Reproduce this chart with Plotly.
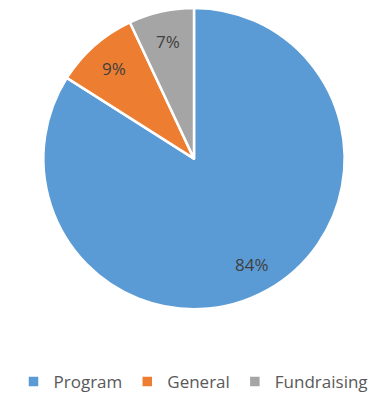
import math
import plotly.graph_objects as go

categories = ["Program", "General", "Fundraising"]
values = [84, 9, 7]
colors = ["#5B9BD5", "#ED7D31", "#A5A5A5"]

W, H = 387, 400
cx_px, cy_px, r_px = 194, 159, 151

fig = go.Figure(go.Pie(
    labels=categories, values=values, sort=False, direction="clockwise",
    rotation=0, textinfo="none", hoverinfo="label+percent",
    marker=dict(colors=colors, line=dict(color="white", width=2.5)),
    domain=dict(x=[(cx_px - r_px) / W, (cx_px + r_px) / W],
                y=[(H - cy_px - r_px) / H, (H - cy_px + r_px) / H]),
))

total = sum(values)
start = 0.0
anns = []
for v in values:
    mid = (start + v / 2) / total * 2 * math.pi
    start += v
    x = (cx_px + 0.8 * r_px * math.sin(mid)) / W
    y = (H - cy_px + 0.8 * r_px * math.cos(mid)) / H
    anns.append(dict(x=x, y=y, xref="paper", yref="paper", showarrow=False,
                     xanchor="center", yanchor="middle",
                     text=f"{round(v / total * 100)}%",
                     font=dict(family="Open Sans, sans-serif", size=17, color="#404040")))

fig.update_layout(
    width=W, height=H, margin=dict(l=0, r=0, t=0, b=0),
    paper_bgcolor="white", plot_bgcolor="white",
    annotations=anns,
    legend=dict(orientation="h", x=0.5, xanchor="center", y=0.042, yanchor="middle",
                font=dict(family="Open Sans, sans-serif", size=17, color="#595959"),
                itemwidth=30, tracegroupgap=0),
    showlegend=True,
)

fig.write_html("out.html")
